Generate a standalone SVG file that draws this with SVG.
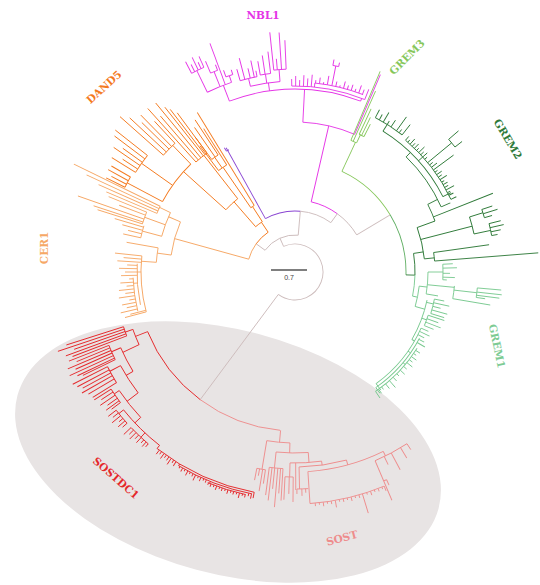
<svg xmlns="http://www.w3.org/2000/svg" width="540" height="585" viewBox="0 0 540 585">
<style>
.t path,.t circle{fill:none;stroke-width:0.9}
.gr{stroke:#cdbcbc}
.nb{stroke:#e534e6}
.pu{stroke:#8a45d2}
.da{stroke:#f47a1f}
.ce{stroke:#f6a866}
.g3{stroke:#86c75b}
.gm{stroke:#5fae62}
.g2{stroke:#2f7a39}
.g1{stroke:#78c98f}
.sd{stroke:#e5282b}
.so{stroke:#ee8c8c}
text.lab{font-family:"DejaVu Serif",serif;font-weight:bold;font-size:10.5px;text-anchor:middle}
</style>
<rect width="540" height="585" fill="#ffffff"/>
<ellipse id="highlight" cx="228" cy="452" rx="218" ry="122" transform="rotate(15 228 452)" fill="#e8e4e4"/>
<g class="t" transform="translate(295 272)">
<g id="connectors">
<circle class="gr" r="28" pathLength="360" stroke-dasharray="240.6 360" transform="rotate(-114)"/>
<path class="gr" d="M28 0H159" transform="rotate(126.6)"/>
<path class="gr" d="M28 0H37" transform="rotate(-114)"/>
<circle class="gr" r="37" pathLength="360" stroke-dasharray="59 360" transform="rotate(-144)"/>
<path class="gr" d="M37 0H48" transform="rotate(-144)"/>
<path class="gr" d="M37 0H61" transform="rotate(-85)"/>
<circle class="pu" r="61" pathLength="360" stroke-dasharray="34 360" transform="rotate(-119)"/>
<circle class="gr" r="61" pathLength="360" stroke-dasharray="31 360" transform="rotate(-85)"/>
<path class="gr" d="M61 0H72" transform="rotate(-54)"/>
<circle class="nb" r="72" pathLength="360" stroke-dasharray="23 360" transform="rotate(-77)"/>
<circle class="gr" r="72" pathLength="360" stroke-dasharray="23 360" transform="rotate(-54)"/>
<path class="gr" d="M72 0H111" transform="rotate(-31)"/>
<circle class="ce" r="48" pathLength="360" stroke-dasharray="20.5 360" transform="rotate(-164.5)"/>
<circle class="da" r="48" pathLength="360" stroke-dasharray="20 360" transform="rotate(-144)"/>
<circle class="g3" r="111" pathLength="360" stroke-dasharray="34 360" transform="rotate(-65)"/>
<circle class="gm" r="111" pathLength="360" stroke-dasharray="32.5 360" transform="rotate(-31)"/>
<path class="g2" d="M111 0H120" transform="rotate(1.5)"/>
<circle class="g2" r="120" pathLength="360" stroke-dasharray="10.4 360" transform="rotate(-8.9)"/>
<circle class="g1" r="120" pathLength="360" stroke-dasharray="10.1 360" transform="rotate(1.5)"/>
<circle class="so" r="159" pathLength="360" stroke-dasharray="31.2 360" transform="rotate(95.4)"/>
<circle class="sd" r="159" pathLength="360" stroke-dasharray="31.4 360" transform="rotate(126.6)"/>
</g>
<g id="purple" class="pu">
<path d="M61 0H142" transform="rotate(-119)"/>
<circle r="139" pathLength="360" stroke-dasharray="1.2 360" transform="rotate(-119.6)"/>
<path d="M139 0H143" transform="rotate(-119.6)"/>
</g>
<g id="NBL1" class="nb">
<path d="M72 0H150" transform="rotate(-77)"/>
<circle r="150" pathLength="360" stroke-dasharray="20.4 360" transform="rotate(-87)"/>
<path d="M150 0H215" transform="rotate(-66.6)"/>
<path d="M150 0H183" transform="rotate(-87)"/>
<circle r="183" pathLength="360" stroke-dasharray="42 360" transform="rotate(-111)"/>
<path d="M183 0H200" transform="rotate(-111)"/>
<circle r="200" pathLength="360" stroke-dasharray="7.5 360" transform="rotate(-116)"/>
<path d="M200 0H224" transform="rotate(-116)"/>
<circle r="224" pathLength="360" stroke-dasharray="3.5 360" transform="rotate(-117.5)"/>
<path d="M224 0H237" transform="rotate(-117.5)"/>
<path d="M224 0H232" transform="rotate(-116.6)"/>
<path d="M224 0H238" transform="rotate(-115.6)"/>
<path d="M224 0H231" transform="rotate(-114.8)"/>
<path d="M224 0H236" transform="rotate(-114)"/>
<path d="M200 0H216" transform="rotate(-112)"/>
<circle r="216" pathLength="360" stroke-dasharray="2 360" transform="rotate(-113)"/>
<path d="M216 0H229" transform="rotate(-113)"/>
<path d="M216 0H222" transform="rotate(-111)"/>
<path d="M200 0H244" transform="rotate(-110.4)"/>
<path d="M200 0H207" transform="rotate(-108.5)"/>
<circle r="207" pathLength="360" stroke-dasharray="2 360" transform="rotate(-109.5)"/>
<path d="M207 0H214" transform="rotate(-109.5)"/>
<path d="M207 0H212" transform="rotate(-107.5)"/>
<path d="M183 0H191" transform="rotate(-98)"/>
<circle r="191" pathLength="360" stroke-dasharray="9 360" transform="rotate(-103.5)"/>
<path d="M191 0H199" transform="rotate(-103.5)"/>
<circle r="199" pathLength="360" stroke-dasharray="5 360" transform="rotate(-106)"/>
<path d="M199 0H211" transform="rotate(-106)"/>
<path d="M199 0H221" transform="rotate(-104.6)"/>
<path d="M199 0H209" transform="rotate(-103)"/>
<path d="M199 0H216" transform="rotate(-101.8)"/>
<path d="M199 0H205" transform="rotate(-101)"/>
<path d="M191 0H200" transform="rotate(-98.5)"/>
<circle r="200" pathLength="360" stroke-dasharray="3 360" transform="rotate(-100)"/>
<path d="M200 0H214" transform="rotate(-100)"/>
<path d="M200 0H219" transform="rotate(-98.6)"/>
<path d="M200 0H222" transform="rotate(-97)"/>
<path d="M191 0H203" transform="rotate(-94.5)"/>
<circle r="203" pathLength="360" stroke-dasharray="3.5 360" transform="rotate(-96)"/>
<path d="M203 0H241" transform="rotate(-96)"/>
<path d="M203 0H214" transform="rotate(-95)"/>
<path d="M203 0H240" transform="rotate(-93.8)"/>
<path d="M203 0H232" transform="rotate(-92.5)"/>
<path d="M183 0H186" transform="rotate(-69)"/>
<circle r="186" pathLength="360" stroke-dasharray="23 360" transform="rotate(-91)"/>
<path d="M186 0H190" transform="rotate(-84)"/>
<circle r="190" pathLength="360" stroke-dasharray="15 360" transform="rotate(-84)"/>
<path d="M186 0H193" transform="rotate(-91)"/>
<path d="M186 0H196" transform="rotate(-89.8)"/>
<path d="M186 0H192" transform="rotate(-88.6)"/>
<path d="M186 0H197" transform="rotate(-87.4)"/>
<path d="M186 0H194" transform="rotate(-86.2)"/>
<path d="M186 0H198" transform="rotate(-85)"/>
<path d="M190 0H193" transform="rotate(-83.8)"/>
<path d="M190 0H196" transform="rotate(-82.6)"/>
<path d="M190 0H192" transform="rotate(-81.4)"/>
<path d="M190 0H199" transform="rotate(-80.2)"/>
<path d="M190 0H210" transform="rotate(-78.8)"/>
<circle r="210" pathLength="360" stroke-dasharray="1.6 360" transform="rotate(-79.6)"/>
<path d="M210 0H216" transform="rotate(-79.6)"/>
<path d="M210 0H214" transform="rotate(-78)"/>
<path d="M190 0H195" transform="rotate(-77.6)"/>
<path d="M190 0H192" transform="rotate(-76.4)"/>
<path d="M190 0H197" transform="rotate(-75.2)"/>
<path d="M190 0H194" transform="rotate(-74)"/>
<path d="M190 0H196" transform="rotate(-72.8)"/>
<path d="M190 0H193" transform="rotate(-71.6)"/>
<path d="M190 0H198" transform="rotate(-70.4)"/>
<path d="M190 0H195" transform="rotate(-69.2)"/>
<path d="M186 0H197" transform="rotate(-68)"/>
</g>
<g id="GREM3" class="g3">
<path d="M111 0H143" transform="rotate(-65)"/>
<circle r="143" pathLength="360" stroke-dasharray="2.5 360" transform="rotate(-67)"/>
<path d="M143 0H218" transform="rotate(-67)"/>
<path d="M143 0H198" transform="rotate(-66)"/>
<path d="M143 0H152" transform="rotate(-64.5)"/>
<circle r="152" pathLength="360" stroke-dasharray="2 360" transform="rotate(-65)"/>
<path d="M152 0H180" transform="rotate(-65)"/>
<path d="M152 0H172" transform="rotate(-64)"/>
<path d="M152 0H166" transform="rotate(-63)"/>
</g>
<g id="GREM2" class="g2">
<path d="M120 0H130" transform="rotate(-8.9)"/>
<circle r="130" pathLength="360" stroke-dasharray="14.2 360" transform="rotate(-20)"/>
<path d="M130 0H140" transform="rotate(-5.8)"/>
<circle r="140" pathLength="360" stroke-dasharray="3.5 360" transform="rotate(-8)"/>
<path d="M140 0H196" transform="rotate(-8)"/>
<path d="M140 0H244" transform="rotate(-4.5)"/>
<path d="M130 0H183" transform="rotate(-14.5)"/>
<circle r="183" pathLength="360" stroke-dasharray="5.5 360" transform="rotate(-17.5)"/>
<path d="M183 0H197" transform="rotate(-17.5)"/>
<circle r="197" pathLength="360" stroke-dasharray="2.5 360" transform="rotate(-18.5)"/>
<path d="M197 0H208" transform="rotate(-18.5)"/>
<path d="M197 0H212" transform="rotate(-17.2)"/>
<path d="M197 0H205" transform="rotate(-16)"/>
<path d="M183 0H200" transform="rotate(-12)"/>
<circle r="200" pathLength="360" stroke-dasharray="3.5 360" transform="rotate(-14)"/>
<path d="M200 0H212" transform="rotate(-14)"/>
<path d="M200 0H214" transform="rotate(-12.8)"/>
<path d="M200 0H210" transform="rotate(-11.6)"/>
<path d="M200 0H206" transform="rotate(-10.5)"/>
<path d="M130 0H149" transform="rotate(-20)"/>
<circle r="149" pathLength="360" stroke-dasharray="7 360" transform="rotate(-27)"/>
<path d="M149 0H213" transform="rotate(-21.7)"/>
<path d="M149 0H160" transform="rotate(-27)"/>
<circle r="160" pathLength="360" stroke-dasharray="22 360" transform="rotate(-46)"/>
<path d="M160 0H170" transform="rotate(-24)"/>
<path d="M160 0H166" transform="rotate(-46)"/>
<circle r="166" pathLength="360" stroke-dasharray="31 360" transform="rotate(-58)"/>
<path d="M166 0H175" transform="rotate(-27)"/>
<path d="M166 0H172" transform="rotate(-42)"/>
<circle r="172" pathLength="360" stroke-dasharray="25 360" transform="rotate(-50)"/>
<path d="M172 0H177" transform="rotate(-50)"/>
<path d="M172 0H175" transform="rotate(-49)"/>
<path d="M172 0H179" transform="rotate(-48)"/>
<path d="M172 0H176" transform="rotate(-47)"/>
<path d="M172 0H178" transform="rotate(-46)"/>
<path d="M172 0H175" transform="rotate(-45)"/>
<path d="M172 0H180" transform="rotate(-44)"/>
<path d="M172 0H176" transform="rotate(-43)"/>
<path d="M172 0H178" transform="rotate(-42)"/>
<path d="M172 0H175" transform="rotate(-41)"/>
<path d="M172 0H203" transform="rotate(-39.5)"/>
<circle r="203" pathLength="360" stroke-dasharray="2.8 360" transform="rotate(-40.8)"/>
<path d="M203 0H216" transform="rotate(-40.8)"/>
<path d="M203 0H212" transform="rotate(-38)"/>
<path d="M172 0H176" transform="rotate(-38.5)"/>
<path d="M172 0H179" transform="rotate(-37.5)"/>
<path d="M172 0H197" transform="rotate(-36.4)"/>
<path d="M172 0H175" transform="rotate(-35.5)"/>
<path d="M172 0H178" transform="rotate(-34.5)"/>
<path d="M172 0H176" transform="rotate(-33.5)"/>
<path d="M172 0H180" transform="rotate(-32.5)"/>
<path d="M172 0H175" transform="rotate(-31.5)"/>
<path d="M172 0H177" transform="rotate(-30.5)"/>
<path d="M172 0H176" transform="rotate(-29.5)"/>
<path d="M172 0H181" transform="rotate(-28.5)"/>
<path d="M172 0H175" transform="rotate(-27.5)"/>
<path d="M172 0H177" transform="rotate(-26.5)"/>
<path d="M172 0H178" transform="rotate(-25)"/>
<path d="M166 0H174" transform="rotate(-58)"/>
<circle r="174" pathLength="360" stroke-dasharray="10.5 360" transform="rotate(-62.5)"/>
<path d="M174 0H183" transform="rotate(-62.5)"/>
<path d="M174 0H180" transform="rotate(-61)"/>
<path d="M174 0H185" transform="rotate(-59.5)"/>
<path d="M174 0H178" transform="rotate(-58)"/>
<path d="M174 0H182" transform="rotate(-56.5)"/>
<path d="M174 0H191" transform="rotate(-54.3)"/>
<path d="M174 0H178" transform="rotate(-53.2)"/>
<path d="M174 0H187" transform="rotate(-52)"/>
</g>
<g id="GREM1" class="g1">
<path d="M120 0H125" transform="rotate(11.6)"/>
<circle r="125" pathLength="360" stroke-dasharray="9.5 360" transform="rotate(6.5)"/>
<path d="M125 0H133" transform="rotate(6.5)"/>
<circle r="133" pathLength="360" stroke-dasharray="9.5 360" transform="rotate(0)"/>
<path d="M133 0H148" transform="rotate(0)"/>
<circle r="148" pathLength="360" stroke-dasharray="6 360" transform="rotate(-3)"/>
<path d="M148 0H158" transform="rotate(-3)"/>
<path d="M148 0H162" transform="rotate(-1.5)"/>
<path d="M148 0H155" transform="rotate(0.5)"/>
<path d="M148 0H160" transform="rotate(2)"/>
<path d="M148 0H152" transform="rotate(3)"/>
<path d="M133 0H160" transform="rotate(5.5)"/>
<circle r="160" pathLength="360" stroke-dasharray="4.6 360" transform="rotate(5)"/>
<path d="M160 0H183" transform="rotate(6.5)"/>
<circle r="183" pathLength="360" stroke-dasharray="3 360" transform="rotate(5)"/>
<path d="M183 0H207" transform="rotate(5)"/>
<path d="M183 0H208" transform="rotate(6.3)"/>
<path d="M183 0H206" transform="rotate(7.3)"/>
<path d="M183 0H192" transform="rotate(8)"/>
<path d="M160 0H198" transform="rotate(9.6)"/>
<path d="M133 0H145" transform="rotate(9.5)"/>
<path d="M125 0H135" transform="rotate(16)"/>
<circle r="135" pathLength="360" stroke-dasharray="18 360" transform="rotate(12)"/>
<path d="M135 0H142" transform="rotate(13)"/>
<circle r="142" pathLength="360" stroke-dasharray="6 360" transform="rotate(11)"/>
<path d="M142 0H152" transform="rotate(11)"/>
<path d="M142 0H158" transform="rotate(12.5)"/>
<path d="M142 0H150" transform="rotate(14)"/>
<path d="M142 0H158" transform="rotate(15.5)"/>
<path d="M142 0H156" transform="rotate(17)"/>
<path d="M135 0H140" transform="rotate(20)"/>
<circle r="140" pathLength="360" stroke-dasharray="4.5 360" transform="rotate(18)"/>
<path d="M140 0H157" transform="rotate(18)"/>
<path d="M140 0H152" transform="rotate(19.5)"/>
<path d="M140 0H156" transform="rotate(21)"/>
<path d="M140 0H150" transform="rotate(22.5)"/>
<path d="M135 0H138" transform="rotate(30)"/>
<circle r="138" pathLength="360" stroke-dasharray="30 360" transform="rotate(24)"/>
<path d="M138 0H141" transform="rotate(35)"/>
<circle r="141" pathLength="360" stroke-dasharray="27 360" transform="rotate(28)"/>
<path d="M141 0H144" transform="rotate(40)"/>
<circle r="144" pathLength="360" stroke-dasharray="24 360" transform="rotate(32)"/>
<path d="M138 0H146" transform="rotate(24)"/>
<path d="M138 0H149" transform="rotate(25.5)"/>
<path d="M138 0H145" transform="rotate(27)"/>
<path d="M141 0H147" transform="rotate(28.5)"/>
<path d="M141 0H150" transform="rotate(30)"/>
<path d="M144 0H149" transform="rotate(33)"/>
<path d="M144 0H147" transform="rotate(34.5)"/>
<path d="M144 0H150" transform="rotate(36)"/>
<path d="M144 0H148" transform="rotate(37.5)"/>
<path d="M144 0H151" transform="rotate(39)"/>
<path d="M144 0H148" transform="rotate(41)"/>
<path d="M144 0H150" transform="rotate(43)"/>
<path d="M144 0H147" transform="rotate(45)"/>
<path d="M144 0H149" transform="rotate(47)"/>
<path d="M144 0H153" transform="rotate(49)"/>
<path d="M144 0H150" transform="rotate(51)"/>
<path d="M144 0H147" transform="rotate(53)"/>
<path d="M144 0H149" transform="rotate(54.5)"/>
<path d="M144 0H152" transform="rotate(56)"/>
<path d="M138 0H146" transform="rotate(54)"/>
<path d="M141 0H148" transform="rotate(55)"/>
</g>
<g id="DAND5" class="da">
<path d="M48 0H60" transform="rotate(-124)"/>
<circle r="60" pathLength="360" stroke-dasharray="8 360" transform="rotate(-131)"/>
<path d="M60 0H78" transform="rotate(-123)"/>
<circle r="78" pathLength="360" stroke-dasharray="3 360" transform="rotate(-124.5)"/>
<path d="M78 0H187" transform="rotate(-121.5)"/>
<path d="M78 0H127" transform="rotate(-124.5)"/>
<circle r="127" pathLength="360" stroke-dasharray="4.5 360" transform="rotate(-127)"/>
<path d="M127 0H170" transform="rotate(-122.5)"/>
<path d="M127 0H140" transform="rotate(-125)"/>
<circle r="140" pathLength="360" stroke-dasharray="3.2 360" transform="rotate(-126.5)"/>
<path d="M140 0H182" transform="rotate(-123.3)"/>
<path d="M140 0H176" transform="rotate(-124.8)"/>
<path d="M140 0H168" transform="rotate(-126.5)"/>
<path d="M127 0H158" transform="rotate(-127)"/>
<path d="M60 0H93" transform="rotate(-131)"/>
<circle r="93" pathLength="360" stroke-dasharray="10 360" transform="rotate(-138)"/>
<path d="M93 0H148" transform="rotate(-128)"/>
<circle r="148" pathLength="360" stroke-dasharray="5.5 360" transform="rotate(-132)"/>
<path d="M148 0H220" transform="rotate(-132)"/>
<path d="M148 0H206" transform="rotate(-130.8)"/>
<path d="M148 0H219" transform="rotate(-129.5)"/>
<path d="M148 0H210" transform="rotate(-128.3)"/>
<path d="M148 0H205" transform="rotate(-127.5)"/>
<path d="M148 0H198" transform="rotate(-126.5)"/>
<path d="M93 0H150" transform="rotate(-138)"/>
<circle r="150" pathLength="360" stroke-dasharray="18 360" transform="rotate(-152)"/>
<path d="M150 0H176" transform="rotate(-134)"/>
<circle r="176" pathLength="360" stroke-dasharray="5.4 360" transform="rotate(-138.4)"/>
<path d="M176 0H234" transform="rotate(-138.4)"/>
<path d="M176 0H226" transform="rotate(-137)"/>
<path d="M176 0H214" transform="rotate(-135.7)"/>
<path d="M176 0H220" transform="rotate(-134.5)"/>
<path d="M176 0H206" transform="rotate(-133)"/>
<path d="M150 0H188" transform="rotate(-144.7)"/>
<circle r="188" pathLength="360" stroke-dasharray="6.3 360" transform="rotate(-148)"/>
<path d="M188 0H229" transform="rotate(-141.7)"/>
<path d="M188 0H226" transform="rotate(-143)"/>
<path d="M188 0H212" transform="rotate(-144.3)"/>
<path d="M188 0H220" transform="rotate(-145.5)"/>
<path d="M188 0H206" transform="rotate(-146.8)"/>
<path d="M188 0H216" transform="rotate(-148)"/>
<path d="M150 0H190" transform="rotate(-152)"/>
<circle r="190" pathLength="360" stroke-dasharray="3.5 360" transform="rotate(-153.5)"/>
<path d="M190 0H212" transform="rotate(-150)"/>
<path d="M190 0H213" transform="rotate(-151.3)"/>
<path d="M190 0H207" transform="rotate(-152.5)"/>
<path d="M190 0H211" transform="rotate(-153.5)"/>
</g>
<g id="CER1" class="ce">
<path d="M48 0H125" transform="rotate(195.5)"/>
<circle r="125" pathLength="360" stroke-dasharray="15.8 360" transform="rotate(187.8)"/>
<path d="M125 0H138" transform="rotate(203.6)"/>
<circle r="138" pathLength="360" stroke-dasharray="10.5 360" transform="rotate(195)"/>
<path d="M138 0H150" transform="rotate(205.5)"/>
<circle r="150" pathLength="360" stroke-dasharray="3 360" transform="rotate(203)"/>
<path d="M150 0H246" transform="rotate(206)"/>
<path d="M150 0H230" transform="rotate(205)"/>
<path d="M150 0H215" transform="rotate(204)"/>
<path d="M150 0H205" transform="rotate(203)"/>
<path d="M138 0H160" transform="rotate(200)"/>
<circle r="160" pathLength="360" stroke-dasharray="4.5 360" transform="rotate(197.5)"/>
<path d="M160 0H201" transform="rotate(202)"/>
<path d="M160 0H188" transform="rotate(200.8)"/>
<path d="M160 0H230" transform="rotate(199.3)"/>
<path d="M160 0H212" transform="rotate(198.2)"/>
<path d="M160 0H207" transform="rotate(197.5)"/>
<path d="M138 0H158" transform="rotate(195)"/>
<circle r="158" pathLength="360" stroke-dasharray="4.5 360" transform="rotate(192.5)"/>
<path d="M158 0H188" transform="rotate(196.5)"/>
<path d="M158 0H179" transform="rotate(195.3)"/>
<path d="M158 0H172" transform="rotate(194)"/>
<path d="M158 0H176" transform="rotate(192.5)"/>
<path d="M125 0H139" transform="rotate(187.8)"/>
<circle r="139" pathLength="360" stroke-dasharray="6 360" transform="rotate(184)"/>
<path d="M139 0H171" transform="rotate(190)"/>
<path d="M139 0H154" transform="rotate(184)"/>
<circle r="154" pathLength="360" stroke-dasharray="21 360" transform="rotate(165)"/>
<path d="M154 0H158" transform="rotate(180)"/>
<circle r="158" pathLength="360" stroke-dasharray="15 360" transform="rotate(168)"/>
<path d="M158 0H162" transform="rotate(176)"/>
<circle r="162" pathLength="360" stroke-dasharray="12 360" transform="rotate(166)"/>
<path d="M154 0H181" transform="rotate(186)"/>
<path d="M154 0H172" transform="rotate(184.8)"/>
<path d="M154 0H178" transform="rotate(183.6)"/>
<path d="M158 0H168" transform="rotate(182.4)"/>
<path d="M158 0H176" transform="rotate(181.2)"/>
<path d="M158 0H170" transform="rotate(180)"/>
<path d="M158 0H174" transform="rotate(178.8)"/>
<path d="M162 0H166" transform="rotate(177.6)"/>
<path d="M162 0H175" transform="rotate(176.4)"/>
<path d="M162 0H169" transform="rotate(175.2)"/>
<path d="M162 0H177" transform="rotate(174)"/>
<path d="M162 0H171" transform="rotate(172.8)"/>
<path d="M162 0H178" transform="rotate(171.6)"/>
<path d="M162 0H168" transform="rotate(170.4)"/>
<path d="M162 0H176" transform="rotate(169.2)"/>
<path d="M162 0H172" transform="rotate(168)"/>
<path d="M162 0H179" transform="rotate(166.8)"/>
<path d="M154 0H170" transform="rotate(165.6)"/>
<path d="M154 0H176" transform="rotate(165)"/>
</g>
<g id="SOSTDC1" class="sd">
<path d="M159 0H172" transform="rotate(158)"/>
<circle r="172" pathLength="360" stroke-dasharray="5.5 360" transform="rotate(155)"/>
<path d="M172 0H180" transform="rotate(160.5)"/>
<circle r="180" pathLength="360" stroke-dasharray="3.1 360" transform="rotate(159.2)"/>
<path d="M180 0H240" transform="rotate(162.3)"/>
<path d="M180 0H250" transform="rotate(161.5)"/>
<path d="M180 0H234" transform="rotate(160.7)"/>
<path d="M180 0H244" transform="rotate(159.9)"/>
<path d="M180 0H238" transform="rotate(159.2)"/>
<path d="M172 0H190" transform="rotate(155)"/>
<circle r="190" pathLength="360" stroke-dasharray="8 360" transform="rotate(148.5)"/>
<path d="M190 0H200" transform="rotate(156.5)"/>
<circle r="200" pathLength="360" stroke-dasharray="4.5 360" transform="rotate(154)"/>
<path d="M200 0H243" transform="rotate(158.5)"/>
<path d="M200 0H236" transform="rotate(157.7)"/>
<path d="M200 0H247" transform="rotate(156.9)"/>
<path d="M200 0H240" transform="rotate(156.1)"/>
<path d="M200 0H248" transform="rotate(155.3)"/>
<path d="M200 0H241" transform="rotate(154.5)"/>
<path d="M200 0H236" transform="rotate(154)"/>
<path d="M190 0H198" transform="rotate(148.5)"/>
<circle r="198" pathLength="360" stroke-dasharray="9.4 360" transform="rotate(142.4)"/>
<path d="M198 0H210" transform="rotate(151.8)"/>
<circle r="210" pathLength="360" stroke-dasharray="5 360" transform="rotate(148.2)"/>
<path d="M210 0H249" transform="rotate(153.2)"/>
<path d="M210 0H246" transform="rotate(152.2)"/>
<path d="M210 0H242" transform="rotate(151.3)"/>
<path d="M210 0H245" transform="rotate(150.4)"/>
<path d="M210 0H240" transform="rotate(149.4)"/>
<path d="M210 0H238" transform="rotate(148.2)"/>
<path d="M198 0H212" transform="rotate(142.4)"/>
<circle r="212" pathLength="360" stroke-dasharray="9.3 360" transform="rotate(136.7)"/>
<path d="M212 0H218" transform="rotate(146)"/>
<circle r="218" pathLength="360" stroke-dasharray="4.3 360" transform="rotate(143.2)"/>
<path d="M218 0H238" transform="rotate(147.5)"/>
<path d="M218 0H232" transform="rotate(146.6)"/>
<path d="M218 0H236" transform="rotate(145.6)"/>
<path d="M218 0H230" transform="rotate(144.6)"/>
<path d="M218 0H234" transform="rotate(143.8)"/>
<path d="M218 0H229" transform="rotate(143.2)"/>
<path d="M212 0H220" transform="rotate(136.7)"/>
<circle r="220" pathLength="360" stroke-dasharray="13.2 360" transform="rotate(128)"/>
<path d="M220 0H226" transform="rotate(141.2)"/>
<circle r="226" pathLength="360" stroke-dasharray="4.3 360" transform="rotate(138)"/>
<path d="M226 0H236" transform="rotate(142.3)"/>
<path d="M226 0H233" transform="rotate(141.4)"/>
<path d="M226 0H237" transform="rotate(140.5)"/>
<path d="M226 0H231" transform="rotate(139.6)"/>
<path d="M226 0H235" transform="rotate(138.8)"/>
<path d="M226 0H232" transform="rotate(138)"/>
<path d="M220 0H226" transform="rotate(133)"/>
<circle r="226" pathLength="360" stroke-dasharray="6 360" transform="rotate(130.5)"/>
<path d="M226 0H236" transform="rotate(136.5)"/>
<path d="M226 0H232" transform="rotate(135.6)"/>
<path d="M226 0H235" transform="rotate(134.7)"/>
<path d="M226 0H231" transform="rotate(133.8)"/>
<path d="M226 0H233" transform="rotate(132.9)"/>
<path d="M226 0H230" transform="rotate(132)"/>
<path d="M226 0H232" transform="rotate(131.2)"/>
<path d="M226 0H230" transform="rotate(130.5)"/>
<path d="M220 0H224" transform="rotate(128)"/>
<circle r="224" pathLength="360" stroke-dasharray="27.5 360" transform="rotate(100.5)"/>
<path d="M224 0H226" transform="rotate(121)"/>
<circle r="226" pathLength="360" stroke-dasharray="20 360" transform="rotate(101)"/>
<path d="M226 0H228" transform="rotate(112)"/>
<circle r="228" pathLength="360" stroke-dasharray="10 360" transform="rotate(102.5)"/>
<path d="M224 0H229" transform="rotate(127.3)"/>
<path d="M224 0H227" transform="rotate(126.6)"/>
<path d="M224 0H230" transform="rotate(125.8)"/>
<path d="M224 0H227" transform="rotate(125.1)"/>
<path d="M224 0H228" transform="rotate(124.3)"/>
<path d="M224 0H231" transform="rotate(123.6)"/>
<path d="M224 0H227" transform="rotate(122.8)"/>
<path d="M224 0H229" transform="rotate(122.1)"/>
<path d="M226 0H228" transform="rotate(120.6)"/>
<path d="M226 0H230" transform="rotate(119.8)"/>
<path d="M226 0H228" transform="rotate(119.1)"/>
<path d="M226 0H231" transform="rotate(118.3)"/>
<path d="M226 0H228" transform="rotate(117.6)"/>
<path d="M226 0H229" transform="rotate(116.8)"/>
<path d="M226 0H232" transform="rotate(116.1)"/>
<path d="M226 0H228" transform="rotate(115.3)"/>
<path d="M226 0H230" transform="rotate(114.6)"/>
<path d="M226 0H228" transform="rotate(113.8)"/>
<path d="M226 0H229" transform="rotate(113.1)"/>
<path d="M228 0H230" transform="rotate(112.3)"/>
<path d="M228 0H231" transform="rotate(111.6)"/>
<path d="M228 0H230" transform="rotate(110.8)"/>
<path d="M228 0H232" transform="rotate(110.1)"/>
<path d="M228 0H230" transform="rotate(109.3)"/>
<path d="M228 0H231" transform="rotate(108.6)"/>
<path d="M228 0H230" transform="rotate(107.8)"/>
<path d="M228 0H232" transform="rotate(107.1)"/>
<path d="M228 0H230" transform="rotate(106.3)"/>
<path d="M228 0H231" transform="rotate(105.6)"/>
<path d="M228 0H230" transform="rotate(104.8)"/>
<path d="M228 0H233" transform="rotate(104.1)"/>
<path d="M228 0H230" transform="rotate(103.3)"/>
<path d="M228 0H231" transform="rotate(102.6)"/>
<path d="M226 0H229" transform="rotate(101.8)"/>
<path d="M226 0H231" transform="rotate(101.1)"/>
<path d="M224 0H230" transform="rotate(100.5)"/>
</g>
<g id="SOST" class="so">
<path d="M159 0H171" transform="rotate(95.2)"/>
<circle r="171" pathLength="360" stroke-dasharray="7.8 360" transform="rotate(91.7)"/>
<path d="M171 0H200" transform="rotate(99.5)"/>
<circle r="200" pathLength="360" stroke-dasharray="2.5 360" transform="rotate(98.5)"/>
<path d="M200 0H212" transform="rotate(101)"/>
<path d="M200 0H207" transform="rotate(100.2)"/>
<path d="M200 0H222" transform="rotate(99.3)"/>
<path d="M200 0H214" transform="rotate(98.5)"/>
<path d="M171 0H181" transform="rotate(91.7)"/>
<circle r="181" pathLength="360" stroke-dasharray="10.2 360" transform="rotate(85.8)"/>
<path d="M181 0H197" transform="rotate(96)"/>
<circle r="197" pathLength="360" stroke-dasharray="4 360" transform="rotate(93.5)"/>
<path d="M197 0H225" transform="rotate(97.5)"/>
<path d="M197 0H230" transform="rotate(96.7)"/>
<path d="M197 0H218" transform="rotate(95.9)"/>
<path d="M197 0H236" transform="rotate(95)"/>
<path d="M197 0H222" transform="rotate(94.2)"/>
<path d="M197 0H229" transform="rotate(93.5)"/>
<path d="M181 0H191" transform="rotate(85.8)"/>
<circle r="191" pathLength="360" stroke-dasharray="9.5 360" transform="rotate(82)"/>
<path d="M191 0H205" transform="rotate(91.5)"/>
<circle r="205" pathLength="360" stroke-dasharray="2.3 360" transform="rotate(90.5)"/>
<path d="M205 0H228" transform="rotate(92.8)"/>
<path d="M205 0H222" transform="rotate(91.6)"/>
<path d="M205 0H230" transform="rotate(90.5)"/>
<path d="M191 0H218" transform="rotate(89.8)"/>
<path d="M191 0H195" transform="rotate(82)"/>
<circle r="195" pathLength="360" stroke-dasharray="14.1 360" transform="rotate(74.7)"/>
<path d="M195 0H217" transform="rotate(88.8)"/>
<circle r="217" pathLength="360" stroke-dasharray="3 360" transform="rotate(86.5)"/>
<path d="M217 0H222" transform="rotate(89.5)"/>
<path d="M217 0H224" transform="rotate(88.2)"/>
<path d="M217 0H221" transform="rotate(87.2)"/>
<path d="M195 0H200" transform="rotate(74.7)"/>
<circle r="200" pathLength="360" stroke-dasharray="22.5 360" transform="rotate(63.8)"/>
<path d="M200 0H232" transform="rotate(86.3)"/>
<circle r="232" pathLength="360" stroke-dasharray="18.9 360" transform="rotate(67.4)"/>
<path d="M232 0H235" transform="rotate(85)"/>
<path d="M232 0H234" transform="rotate(84)"/>
<path d="M232 0H236" transform="rotate(83)"/>
<path d="M232 0H234" transform="rotate(82)"/>
<path d="M232 0H235" transform="rotate(81)"/>
<path d="M232 0H239" transform="rotate(80)"/>
<path d="M232 0H234" transform="rotate(79)"/>
<path d="M232 0H235" transform="rotate(78)"/>
<path d="M232 0H234" transform="rotate(77)"/>
<path d="M232 0H236" transform="rotate(76)"/>
<path d="M232 0H234" transform="rotate(75)"/>
<path d="M232 0H235" transform="rotate(74)"/>
<path d="M232 0H252" transform="rotate(73.1)"/>
<path d="M232 0H234" transform="rotate(72)"/>
<path d="M232 0H236" transform="rotate(71)"/>
<path d="M232 0H234" transform="rotate(70)"/>
<path d="M232 0H235" transform="rotate(69)"/>
<path d="M232 0H234" transform="rotate(68)"/>
<path d="M232 0H237" transform="rotate(67.4)"/>
<path d="M200 0H205" transform="rotate(63.8)"/>
<circle r="205" pathLength="360" stroke-dasharray="10.1 360" transform="rotate(56.9)"/>
<path d="M205 0H248" transform="rotate(67)"/>
<circle r="227" pathLength="360" stroke-dasharray="0.8 360" transform="rotate(66.2)"/>
<path d="M227 0H233" transform="rotate(66.2)"/>
<path d="M205 0H214" transform="rotate(64.2)"/>
<path d="M205 0H224" transform="rotate(62)"/>
<path d="M205 0H217" transform="rotate(59)"/>
<path d="M205 0H212" transform="rotate(56.9)"/>
</g>
</g>
<g id="labels">
<text class="lab" x="263" y="19" fill="#e534e6">NBL1</text>
<text class="lab" transform="translate(407 57) rotate(-45)" dy="0.35em" fill="#86c75b">GREM3</text>
<text class="lab" transform="translate(508 139) rotate(59)" dy="0.35em" fill="#2f7a39">GREM2</text>
<text class="lab" transform="translate(497 346) rotate(78)" dy="0.35em" fill="#7dcb93">GREM1</text>
<text class="lab" transform="translate(104 87) rotate(-42)" dy="0.35em" fill="#f47a1f">DAND5</text>
<text class="lab" transform="translate(44 248) rotate(-90)" dy="0.35em" fill="#f6a866">CER1</text>
<text class="lab" transform="translate(116 478) rotate(41)" dy="0.35em" fill="#e5282b">SOSTDC1</text>
<text class="lab" transform="translate(342 538) rotate(-15)" dy="0.35em" fill="#ee8c8c">SOST</text>
</g>
<g id="scale">
<line x1="271" y1="270" x2="307" y2="270" stroke="#555555" stroke-width="1.5"/>
<text x="289" y="280" font-family="Liberation Sans, sans-serif" font-size="7" fill="#444444" text-anchor="middle">0.7</text>
</g>
</svg>
